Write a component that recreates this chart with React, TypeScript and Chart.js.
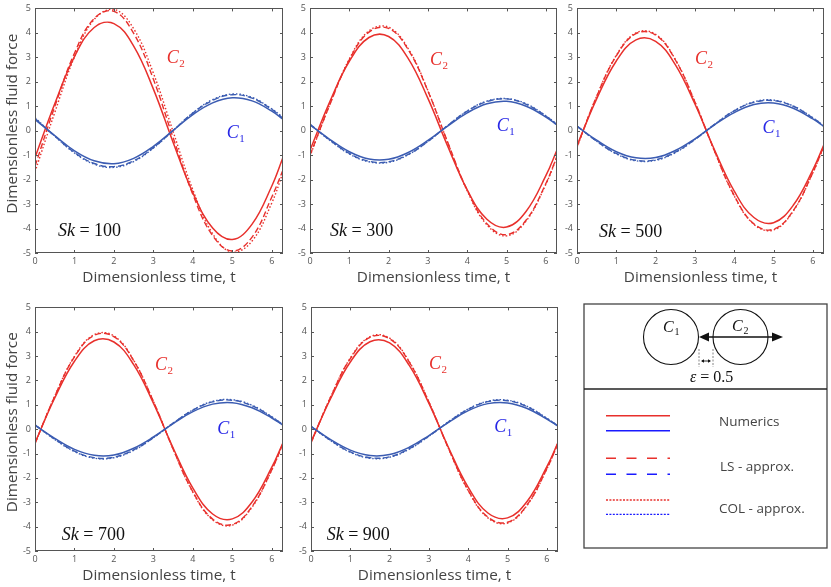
import React, { useEffect, useRef } from 'react';
import { Chart, registerables } from 'chart.js';

Chart.register(...registerables);

// ---------- data ----------
const T = [0, 0.5, 1, 1.5, 2, 2.5, 3, 3.5, 4, 4.5, 5, 5.5, 6, 6.28];
const X_MAX = 6.2832;
const X_TICKS = [0, 1, 2, 3, 4, 5, 6];
const Y_TICKS = [-5, -4, -3, -2, -1, 0, 1, 2, 3, 4, 5];

// Sk = 100
const S100_C2_NUM = [-1.10, 1.10, 3.03, 4.22, 4.38, 3.46, 1.70, -0.48, -2.54, -3.98, -4.45, -3.82, -2.26, -1.11];
const S100_C2_LS = [-1.45, 0.98, 3.17, 4.59, 4.88, 3.98, 2.10, -0.29, -2.61, -4.29, -4.92, -4.35, -2.71, -1.62];
const S100_C2_COL = [-1.68, 0.74, 3.01, 4.55, 4.96, 4.17, 2.35, -0.04, -2.42, -4.21, -4.97, -4.51, -2.95, -1.72];
const S100_C1_NUM = [0.46, -0.20, -0.82, -1.23, -1.35, -1.13, -0.64, 0.01, 0.66, 1.14, 1.35, 1.22, 0.80, 0.47];
const S100_C1_LS = [0.50, -0.22, -0.89, -1.34, -1.47, -1.23, -0.69, 0.01, 0.72, 1.24, 1.47, 1.33, 0.87, 0.51];
const S100_C1_COL = [0.53, -0.22, -0.91, -1.37, -1.50, -1.26, -0.71, 0.01, 0.73, 1.27, 1.50, 1.36, 0.89, 0.55];

// Sk = 300
const S300_C2_NUM = [-0.80, 1.17, 2.83, 3.81, 3.85, 2.95, 1.32, -0.62, -2.42, -3.62, -3.94, -3.29, -1.84, -0.80];
const S300_C2_LS = [-1.00, 1.05, 2.90, 4.03, 4.18, 3.31, 1.62, -0.46, -2.43, -3.80, -4.25, -3.65, -2.16, -1.06];
const S300_C2_COL = [-1.04, 1.06, 2.93, 4.08, 4.23, 3.35, 1.64, -0.47, -2.46, -3.85, -4.30, -3.69, -2.19, -1.08];
const S300_C1_NUM = [0.24, -0.35, -0.86, -1.16, -1.17, -0.89, -0.40, 0.19, 0.73, 1.10, 1.20, 1.00, 0.56, 0.24];
const S300_C1_LS = [0.26, -0.38, -0.93, -1.25, -1.27, -0.97, -0.44, 0.21, 0.80, 1.19, 1.30, 1.08, 0.60, 0.26];
const S300_C1_COL = [0.26, -0.39, -0.95, -1.27, -1.29, -0.98, -0.44, 0.21, 0.81, 1.21, 1.31, 1.10, 0.61, 0.27];

// Sk = 500
const S500_C2_NUM = [-0.60, 1.30, 2.85, 3.71, 3.65, 2.70, 1.09, -0.79, -2.47, -3.55, -3.76, -3.05, -1.60, -0.58];
const S500_C2_LS = [-0.66, 1.40, 3.06, 3.97, 3.91, 2.90, 1.17, -0.84, -2.65, -3.81, -4.03, -3.27, -1.71, -0.62];
const S500_C2_COL = [-0.68, 1.41, 3.08, 4.00, 3.94, 2.92, 1.18, -0.85, -2.67, -3.83, -4.06, -3.29, -1.72, -0.63];
const S500_C1_NUM = [0.18, -0.39, -0.86, -1.11, -1.10, -0.81, -0.33, 0.24, 0.74, 1.07, 1.13, 0.92, 0.48, 0.17];
const S500_C1_LS = [0.19, -0.43, -0.93, -1.21, -1.19, -0.88, -0.36, 0.26, 0.81, 1.16, 1.23, 1.00, 0.52, 0.19];
const S500_C1_COL = [0.19, -0.43, -0.95, -1.23, -1.21, -0.90, -0.36, 0.26, 0.82, 1.18, 1.25, 1.01, 0.53, 0.19];

// Sk = 700
const S700_C2_NUM = [-0.56, 1.28, 2.79, 3.63, 3.58, 2.65, 1.07, -0.77, -2.42, -3.48, -3.68, -2.99, -1.56, -0.57];
const S700_C2_LS = [-0.59, 1.35, 2.97, 3.85, 3.80, 2.81, 1.14, -0.82, -2.57, -3.69, -3.91, -3.17, -1.66, -0.60];
const S700_C2_COL = [-0.59, 1.36, 2.99, 3.88, 3.83, 2.83, 1.14, -0.82, -2.59, -3.72, -3.94, -3.20, -1.67, -0.61];
const S700_C1_NUM = [0.16, -0.38, -0.83, -1.07, -1.06, -0.78, -0.32, 0.23, 0.72, 1.03, 1.09, 0.88, 0.46, 0.17];
const S700_C1_LS = [0.18, -0.41, -0.90, -1.17, -1.15, -0.85, -0.35, 0.25, 0.78, 1.12, 1.19, 0.96, 0.50, 0.18];
const S700_C1_COL = [0.18, -0.42, -0.92, -1.19, -1.17, -0.87, -0.35, 0.25, 0.79, 1.14, 1.21, 0.98, 0.51, 0.19];

// Sk = 900
const S900_C2_NUM = [-0.52, 1.26, 2.76, 3.59, 3.54, 2.62, 1.06, -0.76, -2.39, -3.44, -3.64, -2.96, -1.54, -0.56];
const S900_C2_LS = [-0.56, 1.32, 2.90, 3.77, 3.71, 2.75, 1.11, -0.80, -2.51, -3.61, -3.82, -3.10, -1.62, -0.59];
const S900_C2_COL = [-0.57, 1.33, 2.92, 3.80, 3.74, 2.77, 1.12, -0.80, -2.53, -3.64, -3.85, -3.12, -1.63, -0.59];
const S900_C1_NUM = [0.11, -0.43, -0.86, -1.08, -1.04, -0.74, -0.26, 0.28, 0.76, 1.05, 1.08, 0.85, 0.41, 0.13];
const S900_C1_LS = [0.12, -0.46, -0.93, -1.17, -1.13, -0.80, -0.28, 0.30, 0.82, 1.13, 1.17, 0.92, 0.44, 0.14];
const S900_C1_COL = [0.12, -0.47, -0.95, -1.19, -1.15, -0.82, -0.29, 0.31, 0.83, 1.15, 1.19, 0.94, 0.45, 0.14];

// label anchors (data coordinates)
const SK_VALUES = ['100', '300', '500', '700', '900'];
const C2_LABEL_POS = [[3.34, 2.78], [3.05, 2.67], [3.0, 2.74], [3.04, 2.44], [3.0, 2.46]];
const C1_LABEL_POS = [[4.86, -0.3], [4.75, -0.01], [4.72, -0.08], [4.62, -0.21], [4.66, -0.1]];
const SK_LABEL_POS = [[0.58, -4.31], [0.51, -4.31], [0.56, -4.34], [0.68, -4.53], [0.40, -4.53]];
const Y_TITLE = 'Dimensionless fluid force';
const X_TITLE = 'Dimensionless time, t';

// ---------- style ----------
const RED = '#e8302c';
const BLUE = '#3b5cb2';
const LABEL_BLUE = '#2828e6';
const LEG_BLUE = '#1a1aff';
const AXIS_GREY = '#555';
const TEXT_GREY = '#444';
const SANS = '"Open Sans", "DejaVu Sans", sans-serif';
const SERIF = '"Liberation Serif", "DejaVu Serif", serif';

const PANELS = [
  { left: 35, top: 5, yW: 35, w: 248, h: 248, yTitle: true, num: [S100_C2_NUM, S100_C1_NUM], ls: [S100_C2_LS, S100_C1_LS], col: [S100_C2_COL, S100_C1_COL] },
  { left: 310, top: 5, yW: 25, w: 247, h: 248, yTitle: false, num: [S300_C2_NUM, S300_C1_NUM], ls: [S300_C2_LS, S300_C1_LS], col: [S300_C2_COL, S300_C1_COL] },
  { left: 577, top: 5, yW: 22, w: 247, h: 248, yTitle: false, num: [S500_C2_NUM, S500_C1_NUM], ls: [S500_C2_LS, S500_C1_LS], col: [S500_C2_COL, S500_C1_COL] },
  { left: 35, top: 304, yW: 35, w: 248, h: 247, yTitle: true, num: [S700_C2_NUM, S700_C1_NUM], ls: [S700_C2_LS, S700_C1_LS], col: [S700_C2_COL, S700_C1_COL] },
  { left: 311, top: 304, yW: 25, w: 247, h: 247, yTitle: false, num: [S900_C2_NUM, S900_C1_NUM], ls: [S900_C2_LS, S900_C1_LS], col: [S900_C2_COL, S900_C1_COL] },
];

const PAD_TOP = 6;
const PAD_RIGHT = 7;
const X_AXIS_H = 40;
const TITLE_SIZE = 15.3;

function series(vals: number[], color: string, dash: number[], width: number) {
  return {
    data: T.map((t, i) => ({ x: t, y: vals[i] })),
    borderColor: color,
    borderWidth: width,
    borderDash: dash,
    pointRadius: 0,
    tension: 0.4,
    fill: false,
  };
}

const boxPlugin = {
  id: 'matlabBox',
  afterDatasetsDraw(chart: any) {
    const { ctx, chartArea: a, scales } = chart;
    const x = scales.x;
    const y = scales.y;
    ctx.save();
    ctx.strokeStyle = AXIS_GREY;
    ctx.lineWidth = 1;
    ctx.strokeRect(Math.round(a.left) + 0.5, Math.round(a.top) + 0.5, Math.round(a.right - a.left) - 1, Math.round(a.bottom - a.top) - 1);
    const tl = 3;
    ctx.beginPath();
    X_TICKS.forEach((v) => {
      const px = Math.round(x.getPixelForValue(v)) + 0.5;
      ctx.moveTo(px, a.bottom);
      ctx.lineTo(px, a.bottom - tl);
      ctx.moveTo(px, a.top);
      ctx.lineTo(px, a.top + tl);
    });
    Y_TICKS.forEach((v) => {
      const py = Math.round(y.getPixelForValue(v)) + 0.5;
      ctx.moveTo(a.left, py);
      ctx.lineTo(a.left + tl, py);
      ctx.moveTo(a.right, py);
      ctx.lineTo(a.right - tl, py);
    });
    ctx.stroke();
    ctx.restore();
  },
};

function drawC(ctx: CanvasRenderingContext2D, px: number, py: number, sub: string, color: string) {
  ctx.fillStyle = color;
  ctx.font = `italic 18px ${SERIF}`;
  ctx.textBaseline = 'alphabetic';
  ctx.textAlign = 'left';
  ctx.fillText('C', px, py);
  const w = ctx.measureText('C').width;
  ctx.font = `11px ${SERIF}`;
  ctx.fillText(sub, px + w + 0.5, py + 4);
}

function makeTextPlugin(idx: number, yTitle: boolean) {
  return {
    id: 'panelText' + idx,
    afterDatasetsDraw(chart: any) {
      const { ctx, scales, chartArea: a } = chart;
      const x = scales.x;
      const y = scales.y;
      ctx.save();
      const c2 = C2_LABEL_POS[idx];
      const c1 = C1_LABEL_POS[idx];
      const sk = SK_LABEL_POS[idx];
      drawC(ctx, x.getPixelForValue(c2[0]), y.getPixelForValue(c2[1]), '2', RED);
      drawC(ctx, x.getPixelForValue(c1[0]), y.getPixelForValue(c1[1]), '1', LABEL_BLUE);
      const sx = x.getPixelForValue(sk[0]);
      const sy = y.getPixelForValue(sk[1]);
      ctx.fillStyle = '#111';
      ctx.font = `italic 18px ${SERIF}`;
      ctx.textAlign = 'left';
      ctx.textBaseline = 'alphabetic';
      ctx.fillText('Sk', sx, sy);
      const w = ctx.measureText('Sk').width;
      ctx.font = `18px ${SERIF}`;
      ctx.fillText(' = ' + SK_VALUES[idx], sx + w, sy);
      if (yTitle) {
        ctx.translate(12.5, (a.top + a.bottom) / 2 - 7);
        ctx.rotate(-Math.PI / 2);
        ctx.font = `${TITLE_SIZE}px ${SANS}`;
        ctx.fillStyle = TEXT_GREY;
        ctx.textAlign = 'center';
        ctx.textBaseline = 'middle';
        ctx.fillText(Y_TITLE, 0, 0);
      }
      ctx.restore();
    },
  };
}

function Panel({ idx }: { idx: number }) {
  const ref = useRef<HTMLCanvasElement>(null);
  const p = PANELS[idx];
  const cw = p.yW + p.w + PAD_RIGHT;
  const ch = PAD_TOP + p.h + X_AXIS_H;
  useEffect(() => {
    if (!ref.current) return;
    const chart = new Chart(ref.current, {
      type: 'line',
      data: {
        datasets: [
          series(p.num[1], BLUE, [], 1.5),
          series(p.ls[1], BLUE, [6, 3], 1.4),
          series(p.col[1], BLUE, [1.5, 2], 1.4),
          series(p.num[0], RED, [], 1.5),
          series(p.ls[0], RED, [6, 3], 1.4),
          series(p.col[0], RED, [1.5, 2], 1.4),
        ] as any,
      },
      options: {
        animation: false,
        responsive: false,
        maintainAspectRatio: false,
        events: [],
        layout: { padding: { top: PAD_TOP, right: PAD_RIGHT, left: 0, bottom: 0 } },
        plugins: { legend: { display: false }, tooltip: { enabled: false }, title: { display: false } },
        scales: {
          x: {
            type: 'linear',
            min: 0,
            max: X_MAX,
            afterBuildTicks: (s: any) => {
              s.ticks = X_TICKS.map((v) => ({ value: v }));
            },
            afterFit: (s: any) => {
              s.height = X_AXIS_H;
            },
            grid: { display: false, drawTicks: false },
            border: { display: false },
            ticks: {
              autoSkip: false,
              maxRotation: 0,
              padding: 3,
              color: AXIS_GREY,
              font: { family: SANS, size: 9 },
            },
            title: {
              display: true,
              text: X_TITLE,
              color: TEXT_GREY,
              font: { family: SANS, size: TITLE_SIZE },
              padding: { top: 0, bottom: 6 },
            },
          },
          y: {
            type: 'linear',
            min: -5,
            max: 5,
            afterBuildTicks: (s: any) => {
              s.ticks = Y_TICKS.map((v) => ({ value: v }));
            },
            afterFit: (s: any) => {
              s.width = p.yW;
            },
            grid: { display: false, drawTicks: false },
            border: { display: false },
            ticks: {
              autoSkip: false,
              padding: 4,
              color: AXIS_GREY,
              font: { family: SANS, size: 9 },
            },
            title: { display: false },
          },
        },
      } as any,
      plugins: [boxPlugin, makeTextPlugin(idx, p.yTitle)],
    });
    return () => chart.destroy();
  }, []);
  return (
    <canvas
      ref={ref}
      width={cw}
      height={ch}
      style={{ position: 'absolute', left: p.left - p.yW, top: p.top - PAD_TOP, width: cw, height: ch }}
    />
  );
}

function LegendBox() {
  const ls = '10 10.5';
  const dot = '2 1.4';
  return (
    <svg width={831} height={587} style={{ position: 'absolute', left: 0, top: 0, pointerEvents: 'none' }}>
      <rect x={584} y={304} width={243} height={244} fill="none" stroke="#444" strokeWidth={1.3} />
      <line x1={584} y1={389} x2={827} y2={389} stroke="#222" strokeWidth={1.3} />
      {/* cylinders */}
      <circle cx={671} cy={337} r={27.5} fill="none" stroke="#111" strokeWidth={1.1} />
      <circle cx={740.5} cy={337} r={27.5} fill="none" stroke="#111" strokeWidth={1.1} />
      <line x1={706} y1={337} x2={775} y2={337} stroke="#111" strokeWidth={1.5} />
      <polygon points="699,337 709,332.5 709,341.5" fill="#111" />
      <polygon points="783,337 772,332.5 772,341.5" fill="#111" />
      <text x={663} y={332} fontFamily={SERIF} fontStyle="italic" fontSize={16} fill="#111">C</text>
      <text x={674.5} y={335} fontFamily={SERIF} fontSize={10} fill="#111">1</text>
      <text x={732} y={331} fontFamily={SERIF} fontStyle="italic" fontSize={16} fill="#111">C</text>
      <text x={743.5} y={334} fontFamily={SERIF} fontSize={10} fill="#111">2</text>
      <line x1={699} y1={349} x2={699} y2={367} stroke="#777" strokeWidth={0.9} strokeDasharray="2 1.5" />
      <line x1={713} y1={349} x2={713} y2={367} stroke="#777" strokeWidth={0.9} strokeDasharray="2 1.5" />
      <line x1={702} y1={361} x2={710} y2={361} stroke="#111" strokeWidth={0.9} />
      <polygon points="701,361 704,359.3 704,362.7" fill="#111" />
      <polygon points="711,361 708,359.3 708,362.7" fill="#111" />
      <text x={690} y={382} fontFamily={SERIF} fontSize={16} fill="#111">
        <tspan fontStyle="italic">ε</tspan>
        <tspan> = 0.5</tspan>
      </text>
      {/* legend entries */}
      <line x1={606} y1={415.7} x2={670} y2={415.7} stroke={RED} strokeWidth={1.5} />
      <line x1={606} y1={430.7} x2={670} y2={430.7} stroke={LEG_BLUE} strokeWidth={1.5} />
      <text x={719} y={425.5} fontFamily={SANS} fontSize={13.5} fill={TEXT_GREY}>Numerics</text>
      <line x1={606} y1={458.3} x2={670} y2={458.3} stroke={RED} strokeWidth={1.5} strokeDasharray={ls} />
      <line x1={606} y1={474.3} x2={670} y2={474.3} stroke={LEG_BLUE} strokeWidth={1.5} strokeDasharray={ls} />
      <text x={720} y={470.5} fontFamily={SANS} fontSize={13.5} fill={TEXT_GREY}>LS - approx.</text>
      <line x1={606} y1={500} x2={670} y2={500} stroke={RED} strokeWidth={1.3} strokeDasharray={dot} />
      <line x1={606} y1={514.3} x2={670} y2={514.3} stroke={LEG_BLUE} strokeWidth={1.3} strokeDasharray={dot} />
      <text x={719} y={513} fontFamily={SANS} fontSize={13.5} fill={TEXT_GREY}>COL - approx.</text>
    </svg>
  );
}

export default function App() {
  return (
    <div style={{ position: 'fixed', left: 0, top: 0, width: 831, height: 587, overflow: 'hidden', background: '#fff' }}>
      {PANELS.map((_, i) => (
        <Panel key={i} idx={i} />
      ))}
      <LegendBox />
    </div>
  );
}
